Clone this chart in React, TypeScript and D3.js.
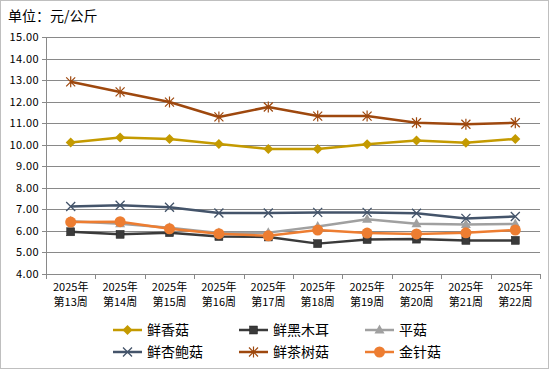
import React from "react";
import * as d3 from "d3";

const categories = ["第13周", "第14周", "第15周", "第16周", "第17周", "第18周", "第19周", "第20周", "第21周", "第22周"];
const yearLabel = "2025年";
const seriesNames = ["鲜香菇", "鲜黑木耳", "平菇", "鲜杏鲍菇", "鲜茶树菇", "金针菇"];
const xianXiangGu = [10.1, 10.33, 10.27, 10.03, 9.8, 9.8, 10.02, 10.2, 10.09, 10.27];
const xianHeiMuEr = [5.96, 5.84, 5.92, 5.74, 5.72, 5.41, 5.6, 5.62, 5.56, 5.56];
const pingGu = [6.45, 6.33, 6.15, 5.9, 5.92, 6.2, 6.54, 6.33, 6.3, 6.32];
const xingBaoGu = [7.13, 7.19, 7.1, 6.83, 6.83, 6.86, 6.86, 6.82, 6.58, 6.67];
const chaShuGu = [12.92, 12.45, 11.98, 11.29, 11.75, 11.33, 11.33, 11.02, 10.95, 11.02];
const jinZhenGu = [6.41, 6.43, 6.1, 5.87, 5.77, 6.04, 5.9, 5.86, 5.91, 6.04];
const yTicks = [4, 5, 6, 7, 8, 9, 10, 11, 12, 13, 14, 15];
const title = "单位：元/公斤";

const seriesValues = [xianXiangGu, xianHeiMuEr, pingGu, xingBaoGu, chaShuGu, jinZhenGu];
const colors = ["#C49A00", "#3A3A3A", "#A0A0A0", "#44546A", "#9E480E", "#ED7D31"];
const markers = ["diamond", "square", "triangle", "x", "asterisk", "circle"];

const FONT = "'Noto Sans CJK SC', 'Noto Sans', sans-serif";

function Marker({ type, x, y, color }: { type: string; x: number; y: number; color: string }) {
  if (type === "diamond") {
    return <path d={`M${x},${y - 5}L${x + 5},${y}L${x},${y + 5}L${x - 5},${y}Z`} fill={color} />;
  }
  if (type === "square") {
    return <rect x={x - 4} y={y - 4} width={8} height={8} fill={color} stroke="#222" strokeWidth={0.5} />;
  }
  if (type === "triangle") {
    return <path d={`M${x},${y - 5.5}L${x + 5},${y + 3.5}L${x - 5},${y + 3.5}Z`} fill={color} />;
  }
  if (type === "x") {
    return (
      <path d={`M${x - 4.5},${y - 4.5}L${x + 4.5},${y + 4.5}M${x - 4.5},${y + 4.5}L${x + 4.5},${y - 4.5}`} stroke={color} strokeWidth={1.3} />
    );
  }
  if (type === "asterisk") {
    return (
      <path
        d={`M${x - 4.5},${y - 4.5}L${x + 4.5},${y + 4.5}M${x - 4.5},${y + 4.5}L${x + 4.5},${y - 4.5}M${x},${y - 5.5}L${x},${y + 5.5}`}
        stroke={color}
        strokeWidth={1.2}
      />
    );
  }
  return <circle cx={x} cy={y} r={5.5} fill={color} />;
}

export default function App() {
  const W = 550;
  const H = 370;
  const left = 46;
  const right = 540;
  const top = 37;
  const bottom = 274;

  const x = d3.scaleBand<string>().domain(categories).range([left, right]);
  const y = d3.scaleLinear().domain([4, 15]).range([bottom, top]);
  const cx = (c: string) => (x(c) as number) + x.bandwidth() / 2;

  const line = d3
    .line<number>()
    .x((_, i) => cx(categories[i]))
    .y((d) => y(d));

  const legendCols = [113, 239, 365];
  const legendRows = [330, 352];

  return (
    <svg width={W} height={H} style={{ position: "absolute", left: 0, top: 0, background: "#fff" }} fontFamily={FONT}>
      <rect x={0.5} y={0.5} width={W - 2} height={H - 2} fill="#fff" stroke="#BFBFBF" />
      <text x={8} y={21} fontSize={14} fill="#000">{title}</text>

      {yTicks.map((t) => (
        <g key={t}>
          <line x1={left - 4} x2={right} y1={Math.round(y(t)) + 0.5} y2={Math.round(y(t)) + 0.5} stroke="#898989" strokeWidth={1} />
          <text x={39} y={y(t) + 4} fontSize={11} letterSpacing={0.4} textAnchor="end" fill="#000">{t.toFixed(2)}</text>
        </g>
      ))}
      <line x1={left + 0.5} x2={left + 0.5} y1={top} y2={bottom + 0.5} stroke="#898989" />
      {categories.map((c, i) => (
        <line key={"t" + i} x1={Math.round(x(c) as number) + 0.5} x2={Math.round(x(c) as number) + 0.5} y1={bottom} y2={bottom + 5} stroke="#898989" />
      ))}
      <line x1={right + 0.5} x2={right + 0.5} y1={bottom} y2={bottom + 5} stroke="#898989" />

      {categories.map((c, i) => (
        <g key={"l" + i}>
          <text x={cx(c)} y={291} fontSize={11} textAnchor="middle" fill="#000">{yearLabel}</text>
          <text x={cx(c)} y={306} fontSize={11} textAnchor="middle" fill="#000">{c}</text>
        </g>
      ))}

      {seriesValues.map((vals, s) => (
        <g key={"s" + s}>
          <path d={line(vals) || ""} fill="none" stroke={colors[s]} strokeWidth={2.5} strokeLinejoin="round" />
          {vals.map((v, i) => (
            <Marker key={i} type={markers[s]} x={cx(categories[i])} y={y(v)} color={colors[s]} />
          ))}
        </g>
      ))}

      {seriesNames.map((n, s) => {
        const lx = legendCols[s % 3];
        const ly = legendRows[Math.floor(s / 3)];
        return (
          <g key={"lg" + s}>
            <line x1={lx} x2={lx + 29} y1={ly} y2={ly} stroke={colors[s]} strokeWidth={2.5} />
            <Marker type={markers[s]} x={lx + 14.5} y={ly} color={colors[s]} />
            <text x={lx + 34} y={ly + 5} fontSize={14} fill="#000">{n}</text>
          </g>
        );
      })}
    </svg>
  );
}
